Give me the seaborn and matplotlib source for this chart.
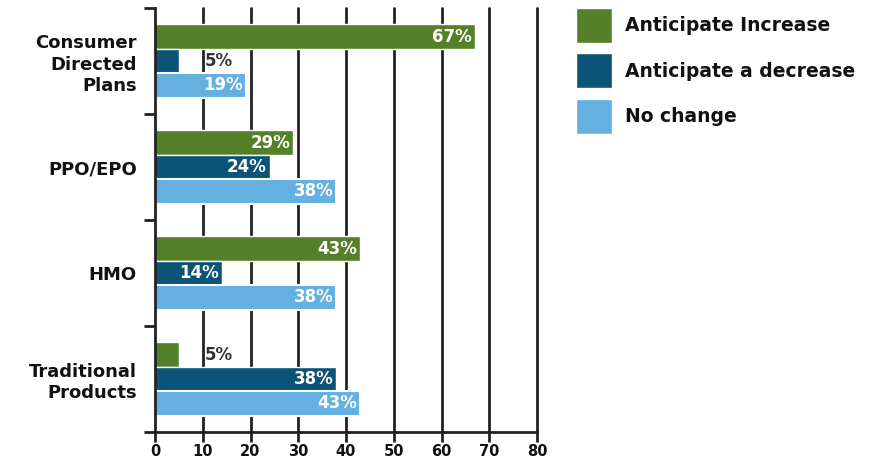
import matplotlib
matplotlib.use("Agg")
import matplotlib.pyplot as plt
import seaborn as sns
import pandas as pd
import numpy as np

# Survey data: expected change in plan offerings
categories = ["Consumer\nDirected\nPlans", "PPO/EPO", "HMO", "Traditional\nProducts"]
series = ["Anticipate Increase", "Anticipate a decrease", "No change"]
increase = [67, 29, 43, 5]
decrease = [5, 24, 14, 38]
no_change = [19, 38, 38, 43]
x_ticks = [0, 10, 20, 30, 40, 50, 60, 70, 80]
colors = ["#55802a", "#0b5377", "#63b0e1"]

rows = []
for vals, name in zip([increase, decrease, no_change], series):
    for cat, v in zip(categories, vals):
        rows.append({"category": cat, "series": name, "value": v})
df = pd.DataFrame(rows)

sns.set_theme(style="white")
plt.rcParams["font.family"] = ["DejaVu Sans"]
ink = "#111111"
line = "#222222"

fig = plt.figure(figsize=(8.71, 4.59), dpi=100)
ax = fig.add_axes([155 / 871, 1 - 432 / 459, (537 - 155) / 871, (432 - 8) / 459])

sns.barplot(data=df, y="category", x="value", hue="series", order=categories,
            hue_order=series, palette=colors, orient="h", width=0.69,
            saturation=1, ax=ax, legend=True, zorder=3)

# white outline on the "No change" bars
for bar in ax.containers[2]:
    bar.set_edgecolor("white")
    bar.set_linewidth(1.5)

# value labels
for cont, vals in zip(ax.containers, [increase, decrease, no_change]):
    for bar, v in zip(cont, vals):
        yc = bar.get_y() + bar.get_height() / 2
        if v >= 10:
            ax.text(v - 0.6, yc, f"{v}%", ha="right", va="center", color="white",
                    fontsize=12, fontweight="bold", zorder=5)
        else:
            ax.text(10.4, yc, f"{v}%", ha="left", va="center", color="#333333",
                    fontsize=12, fontweight="bold", zorder=5)

ax.set_xlim(0, 80)
ax.set_ylim(3.5, -0.5)
ax.set_xticks(x_ticks)
ax.set_xticklabels([str(t) for t in x_ticks], fontsize=10.5, fontweight="bold", color=ink)
ax.set_xlabel("")
ax.set_ylabel("")

# vertical grid lines behind the bars
for t in x_ticks[1:]:
    ax.axvline(t, color=line, lw=2, zorder=1, clip_on=False)

ax.set_yticks(range(len(categories)))
ax.set_yticklabels(categories, fontsize=13, fontweight="bold", linespacing=1.25, color=ink)
ax.set_yticks([-0.5, 0.5, 1.5, 2.5, 3.5], minor=True)
ax.tick_params(axis="y", which="major", length=0, pad=13)
ax.tick_params(axis="y", which="minor", length=8, width=2, color=line, left=True)
ax.tick_params(axis="x", length=7, width=2, color=line, pad=2, bottom=True)

for side in ["top", "right"]:
    ax.spines[side].set_visible(False)
for side in ["left", "bottom"]:
    ax.spines[side].set_color(line)
    ax.spines[side].set_linewidth(2)
    ax.spines[side].set_zorder(4)

handles, labels = ax.get_legend_handles_labels()
ax.get_legend().remove()
fig.legend(handles, labels, loc="upper left", bbox_to_anchor=(576 / 871, 1 - 8 / 459),
           frameon=False, borderpad=0, borderaxespad=0, handlelength=1.9,
           handleheight=2.5, labelspacing=0.55, handletextpad=0.7,
           labelcolor=ink, prop={"size": 13.5, "weight": "bold"})

fig.savefig("out.png", dpi=100)
